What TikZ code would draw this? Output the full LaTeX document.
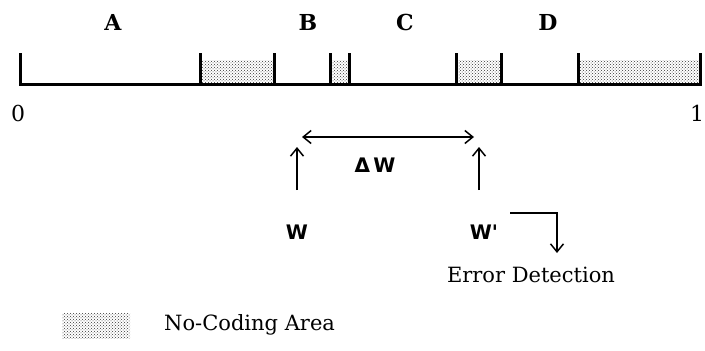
\documentclass[tikz,border=0pt]{standalone}
\usepackage{fontspec}
\setmainfont{DejaVu Serif}
\newfontfamily\wfont{DejaVu Sans}
\usetikzlibrary{patterns,arrows.meta}
\begin{document}
\begin{tikzpicture}[x=1pt,y=-1pt,
  lbl/.style={font=\fontsize{22}{24}\selectfont\bfseries, inner sep=0pt},
  num/.style={font=\fontsize{22}{24}\selectfont, inner sep=0pt},
  wl/.style={font=\wfont\fontsize{20}{22}\selectfont\bfseries, inner sep=0pt},
  txt/.style={font=\fontsize{21}{24}\selectfont, inner sep=0pt},
  tickline/.style={line width=3pt},
  nocode/.style={pattern=crosshatch dots, pattern color=black!80},
  arr/.style={line width=1.5pt, -{Straight Barb[length=8pt,width=13pt]}},
  darr/.style={line width=1.5pt, {Straight Barb[length=8pt,width=13pt]}-{Straight Barb[length=8pt,width=13pt]}}]
\useasboundingbox (0,0) rectangle (705,351);
% no-coding areas
\fill[nocode] (200,60) rectangle (274,84);
\fill[nocode] (330,60) rectangle (349,84);
\fill[nocode] (456,60) rectangle (501,84);
\fill[nocode] (578,60) rectangle (700,84);
% axis
\draw[tickline] (20,84) -- (700,84);
\foreach \x in {20,200,274,330,349,456,501,578,700}
  \draw[tickline] (\x,53) -- (\x,85.5);
% labels
\node[lbl] (A) at (113,22) {A};
\node[lbl] (B) at (308,22) {B};
\node[lbl] (C) at (405,22) {C};
\node[lbl] (D) at (548,22) {D};
\node[num] (zero) at (18,113) {0};
\node[num] (one) at (697,113) {1};
% W arrows
\node[wl] (W) at (297,232) {W};
\node[wl] (Wp) at (484,232) {W'};
\coordinate (wb) at (297,190);
\coordinate (wt) at (297,147);
\coordinate (wpb) at (479,190);
\coordinate (wpt) at (479,147);
\draw[arr] (wb) -- (wt);
\draw[arr] (wpb) -- (wpt);
\coordinate (dl) at (302,137);
\coordinate (dr) at (474,137);
\draw[darr] (dl) -- (dr);
\node[wl] (dW) at (375,165) {Δ\,W};
% error detection
\coordinate (es) at (510,213);
\coordinate (ee) at (557,253);
\draw[arr] (es) -| (ee);
\node[txt] (err) at (531,275) {Error Detection};
% legend
\fill[nocode] (62,313) rectangle (130,338);
\node[txt, anchor=west] (leg) at (164,325) {No-Coding Area};
\end{tikzpicture}
\end{document}
